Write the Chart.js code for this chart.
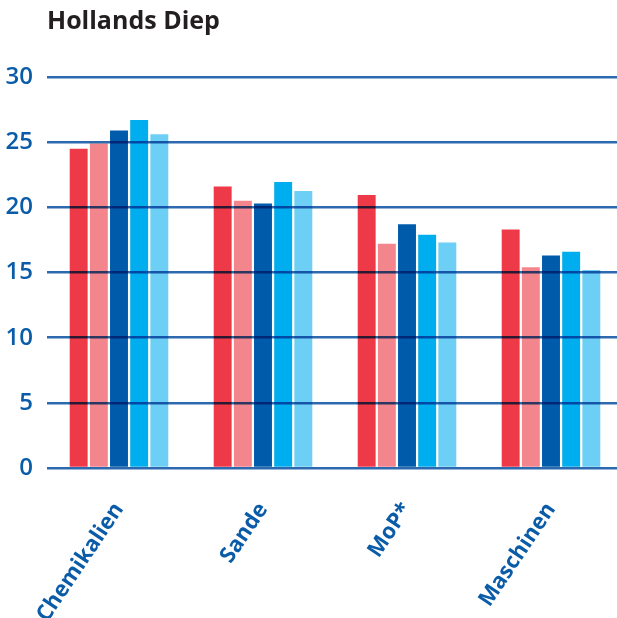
<!DOCTYPE html>
<html>
<head>
<meta charset="utf-8">
<script src="https://cdn.jsdelivr.net/npm/chart.js@4.4.1/dist/chart.umd.min.js"></script>
<style>
  html, body { margin: 0; padding: 0; background: #fff; }
  #wrap { width: 617px; height: 618px; overflow: hidden; position: relative; }
  #grafico { position: absolute; left: 0; top: 0; }
</style>
</head>
<body>
<div id="wrap">
  <canvas id="grafico" width="623" height="618"></canvas>
</div>
<script>
const categorias = ["Chemikalien", "Sande", "MoP*", "Maschinen"];

const serie1 = [24.5, 21.6, 20.95, 18.3];
const serie2 = [24.9, 20.5, 17.2, 15.4];
const serie3 = [25.9, 20.3, 18.7, 16.3];
const serie4 = [26.7, 21.95, 17.9, 16.6];
const serie5 = [25.6, 21.25, 17.3, 15.2];

const cores = ["#EE3A48", "#F2868C", "#005BAA", "#00AEEF", "#6DCFF6"];
const azul = "#0A5CA8";

// grid lines sit on top of the bars and darken them
const multiplicaGrade = {
  id: "multiplicaGrade",
  afterDatasetsDraw(chart) {
    chart.ctx.save();
    chart.ctx.globalCompositeOperation = "multiply";
  },
  afterDraw(chart) {
    chart.ctx.restore();
  }
};

const series = [serie1, serie2, serie3, serie4, serie5];

new Chart(document.querySelector("#grafico"), {
  type: "bar",
  data: {
    labels: categorias,
    datasets: series.map((dados, i) => ({
      data: dados,
      backgroundColor: cores[i],
      borderWidth: 0,
      categoryPercentage: 0.70,
      barPercentage: 0.89
    }))
  },
  options: {
    responsive: false,
    animation: false,
    layout: { padding: 0 },
    plugins: {
      legend: { display: false },
      tooltip: { enabled: false },
      title: {
        display: true,
        text: "Hollands Diep",
        align: "start",
        fullSize: false,
        color: "#231F20",
        font: { family: "Open Sans", size: 25, weight: "bold" },
        padding: { top: 7, bottom: 40 }
      }
    },
    scales: {
      x: {
        grid: { display: false },
        border: { display: false },
        ticks: {
          color: azul,
          font: { family: "Open Sans", size: 22, weight: "bold" },
          minRotation: 56,
          maxRotation: 56,
          padding: 22
        },
        afterFit(escala) {
          // labels run off the bottom edge, keep the plot height fixed
          escala.height = 150;
          escala.paddingLeft = 0;
          escala.paddingRight = 0;
        }
      },
      y: {
        min: 0,
        max: 30,
        border: { display: false },
        grid: {
          z: 1,
          color: "rgb(45, 105, 175)",
          lineWidth: 2.5,
          drawTicks: false
        },
        ticks: {
          stepSize: 5,
          color: azul,
          font: { family: "Open Sans", size: 24, weight: "600" },
          padding: 14
        },
        afterFit(escala) {
          escala.width = 47;
          escala.paddingTop = 0;
          escala.paddingBottom = 0;
        }
      }
    }
  },
  plugins: [multiplicaGrade]
});
</script>
</body>
</html>
